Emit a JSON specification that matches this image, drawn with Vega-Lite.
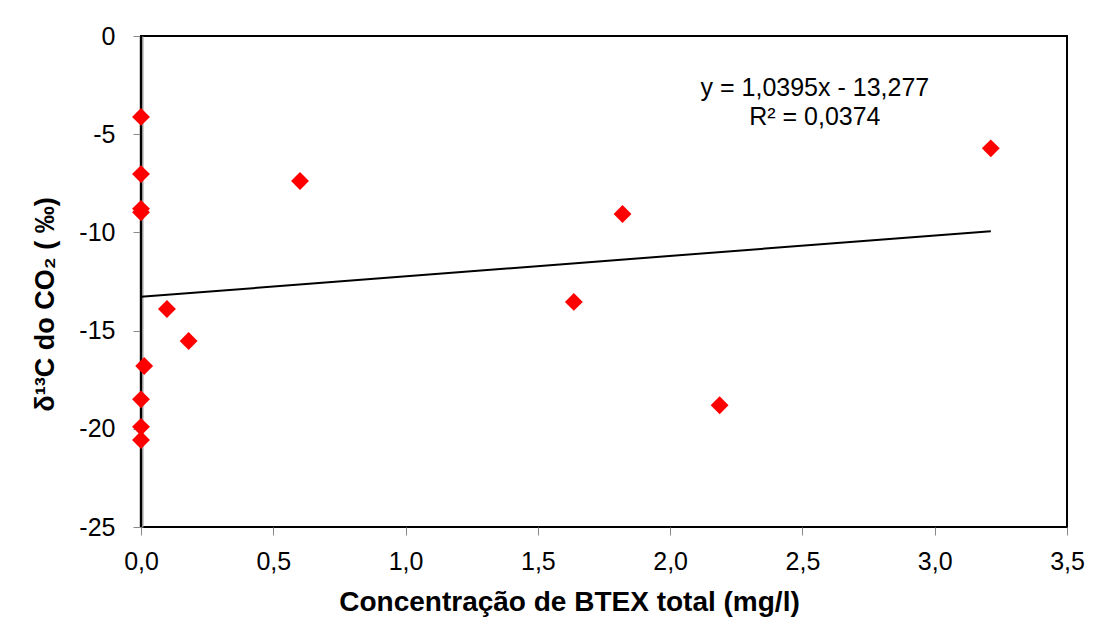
{
  "$schema": "https://vega.github.io/schema/vega-lite/v6.json",
  "width": 926,
  "height": 491,
  "autosize": {"type": "none"},
  "padding": {"left": 141, "top": 36, "right": 46, "bottom": 94},
  "background": "white",
  "config": {
    "font": "Liberation Sans",
    "view": {"stroke": "black", "strokeWidth": 2},
    "axis": {"grid": false, "tickColor": "#888888", "tickSize": 8, "labelFontSize": 25, "labelColor": "black", "titleFontSize": 28, "titleFontWeight": "bold", "titleColor": "black"}
  },
  "datasets": {
    "points": [
      {"btex": 0.0, "d13c": -4.12},
      {"btex": 0.0, "d13c": -7.03},
      {"btex": 0.0, "d13c": -8.8},
      {"btex": 0.0, "d13c": -8.98},
      {"btex": 0.098, "d13c": -13.9},
      {"btex": 0.18, "d13c": -15.53},
      {"btex": 0.012, "d13c": -16.8},
      {"btex": 0.0, "d13c": -18.5},
      {"btex": 0.0, "d13c": -19.9},
      {"btex": 0.0, "d13c": -20.57},
      {"btex": 0.601, "d13c": -7.38},
      {"btex": 1.636, "d13c": -13.54},
      {"btex": 1.82, "d13c": -9.06},
      {"btex": 2.187, "d13c": -18.8},
      {"btex": 3.212, "d13c": -5.72}
    ],
    "trend": [
      {"btex": 0.0, "d13c": -13.277},
      {"btex": 3.212, "d13c": -9.938}
    ],
    "note": [
      {"btex": 2.547, "d13c": -2.65, "label": "y = 1,0395x - 13,277\nR² = 0,0374"}
    ]
  },
  "layer": [
    {
      "data": {"name": "trend"},
      "mark": {"type": "line", "color": "black", "strokeWidth": 2},
      "encoding": {
        "x": {"field": "btex", "type": "quantitative", "scale": {"domain": [0, 3.5], "nice": false},
          "axis": {"title": "Concentração de BTEX total (mg/l)", "values": [0, 0.5, 1, 1.5, 2, 2.5, 3, 3.5], "labelExpr": "replace(format(datum.value, '.1f'), '.', ',')", "labelFlush": false, "domain": false, "labelPadding": 14, "titlePadding": 14, "titleX": 428}},
        "y": {"field": "d13c", "type": "quantitative", "scale": {"domain": [-25, 0], "nice": false},
          "axis": {"title": "δ¹³C do CO₂ ( ‰)", "values": [-25, -20, -15, -10, -5, 0], "labelExpr": "'' + datum.value", "labelFlush": false, "domain": true, "domainColor": "#999999", "domainWidth": 4, "labelPadding": 18, "titleX": -96, "titleY": 268, "titleBaseline": "middle", "titleAlign": "center", "titleAngle": -90, "titleFontSize": 27}}
      }
    },
    {
      "data": {"name": "trend"},
      "mark": {"type": "rule", "color": "black", "strokeWidth": 2},
      "encoding": {"x": {"datum": 0}}
    },
    {
      "data": {"name": "points"},
      "mark": {"type": "point", "shape": "diamond", "filled": true, "color": "#ff0000", "size": 320, "opacity": 1},
      "encoding": {
        "x": {"field": "btex", "type": "quantitative"},
        "y": {"field": "d13c", "type": "quantitative"}
      }
    },
    {
      "data": {"name": "note"},
      "mark": {"type": "text", "fontSize": 25, "lineBreak": "\n", "lineHeight": 29, "align": "center", "baseline": "middle", "color": "black"},
      "encoding": {
        "x": {"field": "btex", "type": "quantitative"},
        "y": {"field": "d13c", "type": "quantitative"},
        "text": {"field": "label"}
      }
    }
  ]
}
